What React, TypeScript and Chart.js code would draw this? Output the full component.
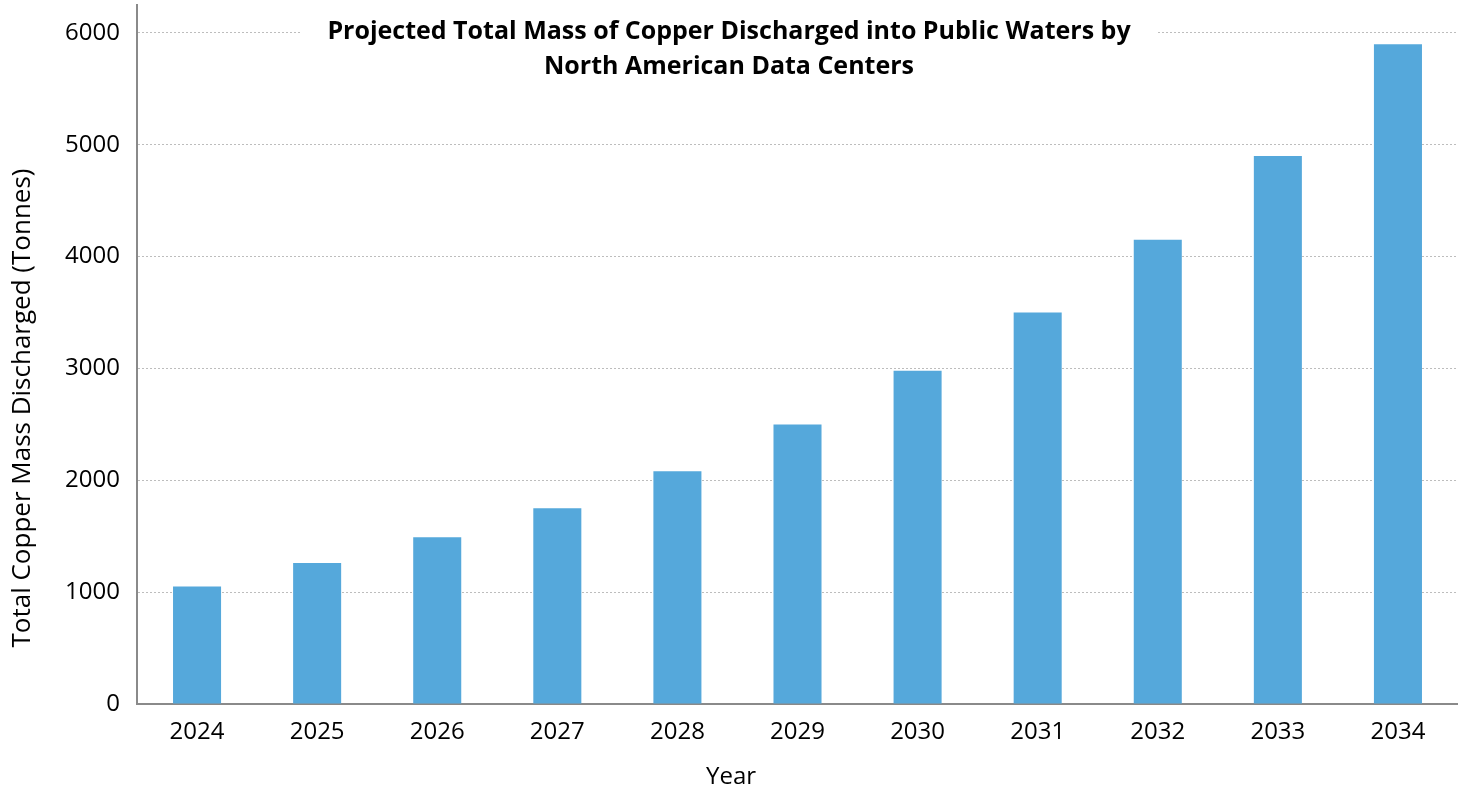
import React, { useEffect, useRef } from "react";
import { Chart, registerables } from "chart.js";

Chart.register(...registerables);

const years = ["2024", "2025", "2026", "2027", "2028", "2029", "2030", "2031", "2032", "2033", "2034"];
const copperTonnes = [1050, 1260, 1490, 1750, 2080, 2500, 2980, 3500, 4150, 4900, 5900];
const yTickValues = [0, 1000, 2000, 3000, 4000, 5000, 6000];
const titleLines = [
  "Projected Total Mass of Copper Discharged into Public Waters by",
  "North American Data Centers",
];
const xTitle = "Year";
const yTitle = "Total Copper Mass Discharged (Tonnes)";

const FAMILY = '"Open Sans", "Noto Sans", sans-serif';

const textPlugin = {
  id: "textPlugin",
  afterDraw(chart: any) {
    const ctx = chart.ctx;
    const cx = chart.width / 2;

    // boxed chart title
    ctx.save();
    ctx.font = `bold 25px ${FAMILY}`;
    const w = Math.max(...titleLines.map((l) => ctx.measureText(l).width));
    ctx.fillStyle = "#ffffff";
    ctx.fillRect(cx - w / 2 - 26, 12, w + 52, 72);
    ctx.fillStyle = "#000000";
    ctx.textAlign = "center";
    ctx.textBaseline = "alphabetic";
    ctx.fillText(titleLines[0], cx, 39);
    ctx.fillText(titleLines[1], cx, 74);
    ctx.restore();

    // x-axis title
    ctx.save();
    ctx.font = `24px ${FAMILY}`;
    ctx.fillStyle = "#000000";
    ctx.textAlign = "center";
    ctx.textBaseline = "alphabetic";
    ctx.fillText(xTitle, cx + 2, 784);
    ctx.restore();

    // y-axis title
    ctx.save();
    ctx.font = `26px ${FAMILY}`;
    ctx.fillStyle = "#000000";
    ctx.textAlign = "center";
    ctx.textBaseline = "middle";
    ctx.translate(23, 408);
    ctx.rotate(-Math.PI / 2);
    ctx.fillText(yTitle, 0, 0);
    ctx.restore();
  },
};

export default function App() {
  const ref = useRef<HTMLCanvasElement | null>(null);

  useEffect(() => {
    if (!ref.current) return;
    const font = { family: FAMILY, size: 24 };
    const chart = new Chart(ref.current, {
      type: "bar",
      data: {
        labels: years,
        datasets: [
          {
            label: "Copper discharged",
            data: copperTonnes,
            backgroundColor: "#55a8db",
            borderWidth: 0,
            barPercentage: 0.4,
            categoryPercentage: 1,
          },
        ],
      },
      plugins: [textPlugin],
      options: {
        animation: false,
        responsive: true,
        maintainAspectRatio: false,
        layout: { padding: { top: 5, right: 0, left: 0, bottom: 0 } },
        plugins: {
          legend: { display: false },
          title: { display: false },
          tooltip: { enabled: false },
        },
        scales: {
          x: {
            grid: { display: false },
            border: { display: true, color: "#8a8a8a", width: 2 },
            ticks: { color: "#000", font, padding: 6, maxRotation: 0 },
            title: { display: false },
            afterFit: (s: any) => {
              s.height = 84;
              s.paddingLeft = 0;
              s.paddingRight = 0;
            },
          },
          y: {
            min: 0,
            max: 6250,
            afterBuildTicks: (s: any) => {
              s.ticks = yTickValues.map((v) => ({ value: v }));
            },
            grid: { color: "#bdbdbd", lineWidth: 1, drawTicks: false },
            border: { display: true, color: "#8a8a8a", width: 2, dash: [2, 2] },
            ticks: {
              color: "#000",
              font,
              padding: 17,
              callback: (v: any) => String(v),
            },
            title: { display: false },
            afterFit: (s: any) => {
              s.width = 137;
              s.paddingTop = 0;
              s.paddingBottom = 0;
            },
          },
        },
      },
    });
    return () => chart.destroy();
  }, []);

  return (
    <div style={{ position: "fixed", left: 0, top: 0, width: 1458, height: 788, background: "#fff" }}>
      <canvas ref={ref} />
    </div>
  );
}
